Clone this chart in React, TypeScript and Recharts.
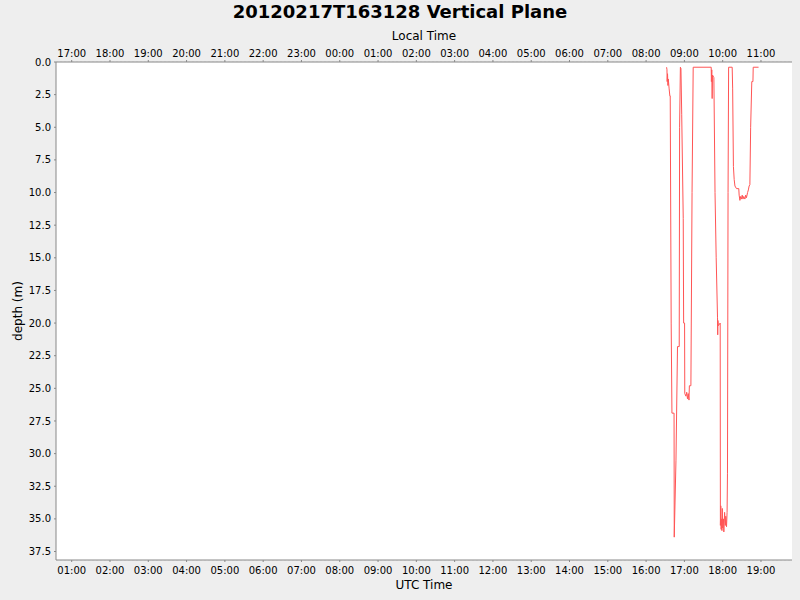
import { LineChart, Line, XAxis, YAxis, CartesianGrid } from 'recharts';

// UTC time in hours of day, depth in metres
const utcHours = [
  16.535, 16.545, 16.55, 16.56, 16.57, 16.58, 16.6, 16.62, 16.63, 16.655, 16.675, 16.73, 16.735,
  16.78, 16.82, 16.865, 16.875, 16.895, 16.91, 16.93, 16.97, 16.98, 17.005, 17.01, 17.04, 17.06,
  17.08, 17.1, 17.12, 17.13, 17.17, 17.2, 17.23, 17.7, 17.705, 17.715, 17.725, 17.735, 17.77,
  17.8, 17.83, 17.865, 17.87, 17.875, 17.885, 17.935, 17.94, 17.95, 17.96, 17.97, 17.98, 17.99,
  18.0, 18.02, 18.03, 18.05, 18.07, 18.08, 18.1, 18.115, 18.125, 18.14, 18.155, 18.248, 18.26,
  18.28, 18.3, 18.32, 18.36, 18.42, 18.43, 18.45, 18.47, 18.49, 18.51, 18.53, 18.55, 18.58, 18.6,
  18.62, 18.65, 18.67, 18.69, 18.71, 18.73, 18.76, 18.79, 18.797, 18.937,
];
const depthM = [
  0.4, 0.6, 1.5, 0.9, 1.8, 1.3, 2.0, 2.6, 2.6, 20, 26.9, 26.9, 36.4,
  30.5, 21.8, 21.8, 5, 0.4, 0.5, 4, 12, 20.0, 20.0, 25.4, 25.6, 25.3,
  25.8, 25.4, 25.9, 24.8, 24.8, 10, 0.4, 0.4, 1.5, 0.6, 2.8, 1.0, 1.2,
  10, 15, 19.6, 20.9, 19.8, 20.2, 20.0, 35.5, 34.0, 35.8, 35.0, 35.9, 34.2,
  35.7, 35.0, 36.0, 34.5, 35.5, 34.8, 35.6, 34.5, 31.5, 10, 0.4, 0.4, 2.0,
  8.0, 9.0, 9.5, 9.7, 9.7, 10.2, 10.6, 10.3, 10.5, 10.2, 10.5, 10.3, 10.5, 10.2,
  10.4, 10.0, 9.8, 9.5, 9.4, 5, 1.5, 1.5, 0.4, 0.4,
];

const hourTicks = [1, 2, 3, 4, 5, 6, 7, 8, 9, 10, 11, 12, 13, 14, 15, 16, 17, 18, 19];
const depthTicks = [0, 2.5, 5, 7.5, 10, 12.5, 15, 17.5, 20, 22.5, 25, 27.5, 30, 32.5, 35, 37.5];
const localOffset = -8;

const data = utcHours.map((t, i) => ({ t, depth: depthM[i] }));

const pad = (n: number) => String(n).padStart(2, '0');
const fmtUtc = (h: number) => `${pad(h)}:00`;
const fmtLocal = (h: number) => `${pad((h + localOffset + 24) % 24)}:00`;

const font = 'DejaVu Sans, sans-serif';
const tickStyle = { fontSize: 10, fill: '#000', fontFamily: font };
const axisGray = '#888888';

export default function App() {
  return (
    <div style={{ position: 'absolute', left: 0, top: 0, width: 800, height: 600, background: '#eeeeee', fontFamily: font }}>
      <div style={{ position: 'absolute', top: 1, left: 0, width: 800, textAlign: 'center', fontSize: 18, fontWeight: 'bold' }}>
        20120217T163128 Vertical Plane
      </div>
      <div style={{ position: 'absolute', top: 29, left: 56, width: 736, textAlign: 'center', fontSize: 12 }}>
        Local Time
      </div>
      <div style={{ position: 'absolute', top: 578, left: 56, width: 736, textAlign: 'center', fontSize: 12 }}>
        UTC Time
      </div>
      <div style={{ position: 'absolute', left: 18, top: 311, fontSize: 12, transform: 'translate(-50%, -50%) rotate(-90deg)', whiteSpace: 'nowrap' }}>
        depth (m)
      </div>
      <LineChart width={800} height={600} data={data} margin={{ top: 0, right: 8, bottom: 0, left: 0 }} style={{ position: 'absolute', left: 0, top: 0 }}>
        <rect x={56} y={62} width={736} height={498} fill="#ffffff" />
        <CartesianGrid vertical={false} stroke="#dddddd" strokeDasharray="2 2" />
        <XAxis
          xAxisId="bottom"
          type="number"
          dataKey="t"
          domain={[0.59, 19.81]}
          ticks={hourTicks}
          tickFormatter={fmtUtc}
          allowDataOverflow
          height={40}
          tickSize={2}
          tickMargin={5}
          tick={tickStyle}
          stroke={axisGray}
        />
        <XAxis
          xAxisId="top"
          orientation="top"
          type="number"
          dataKey="t"
          domain={[0.59, 19.81]}
          ticks={hourTicks}
          tickFormatter={fmtLocal}
          allowDataOverflow
          height={62}
          tickSize={2}
          tickMargin={3}
          tick={tickStyle}
          stroke={axisGray}
        />
        <YAxis
          type="number"
          reversed
          domain={[0, 38.15]}
          ticks={depthTicks}
          tickFormatter={(v: number) => v.toFixed(1)}
          allowDataOverflow
          width={56}
          tickSize={2}
          tickMargin={3}
          tick={tickStyle}
          stroke={axisGray}
        />
        <Line
          xAxisId="bottom"
          type="linear"
          dataKey="depth"
          stroke="#ff5555"
          strokeWidth={1}
          dot={false}
          isAnimationActive={false}
        />
      </LineChart>
    </div>
  );
}
